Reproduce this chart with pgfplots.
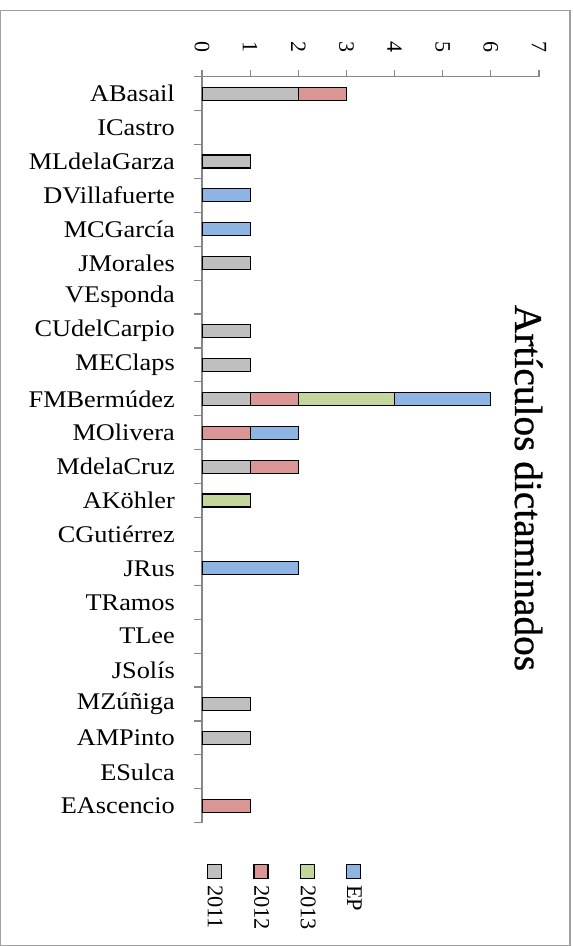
\documentclass[border=0pt]{standalone}
\usepackage{fontspec}
\setmainfont{Liberation Serif}
\newfontfamily\catfont[FakeStretch=1.1]{Liberation Serif}
\newfontfamily\titlefont[FakeBold=0.8]{Liberation Serif}
\usepackage{pgfplots}
\pgfplotsset{compat=1.18}
\usepackage{pgfplotstable}
\definecolor{cA}{HTML}{BFBFBF}
\definecolor{cB}{HTML}{D99694}
\definecolor{cC}{HTML}{C3D69B}
\definecolor{cD}{HTML}{8EB4E3}
\definecolor{axgray}{HTML}{868686}
\definecolor{framegray}{HTML}{A0A0A0}

% idx: 0 = EAscencio (bottom) ... 21 = ABasail (top); empty categories omitted
\pgfplotstableread{
idx a2011 a2012 a2013 ep
21 2 1 0 0
19 1 0 0 0
18 0 0 0 1
17 0 0 0 1
16 1 0 0 0
14 1 0 0 0
13 1 0 0 0
12 1 1 2 2
11 0 1 0 1
10 1 1 0 0
9  0 0 1 0
7  0 0 0 2
3  1 0 0 0
2  1 0 0 0
0  0 1 0 0
}\datatable

\pgfplotsset{
  legkey/.style 2 args={legend image code/.code={
     \draw[fill=#1,draw=black,line width=1.3pt] (0bp,-7bp) rectangle (14bp,7bp);
     \node[rotate=-90,anchor=west,inner sep=0pt,font=\fontsize{22.5}{22.5}\selectfont] at (7bp,-13.5bp) {#2};}},
}

\begin{document}
\begin{tikzpicture}
\useasboundingbox (-202bp,-123.3bp) rectangle (371bp,822.7bp);
\draw[framegray, line width=1.4pt] (-201.3bp,-122.5bp) rectangle (368bp,812.2bp);
\begin{axis}[
  at={(0,0)}, anchor=south west,
  scale only axis, width=337bp, height=746bp,
  xbar stacked, bar width=13bp,
  xmin=0, xmax=7, ymin=-0.5, ymax=21.5,
  axis x line*=top, axis y line*=left,
  axis line style={draw=axgray, line width=1.5pt, -},
  xtick={0,...,7}, xtick pos=upper, xticklabel pos=upper,
  ytick pos=left,
  tick align=outside, major tick length=7bp, minor tick length=8bp,
  x tick style={draw=axgray, line width=1.2pt},
  ytick={0,...,21},
  yticklabels={EAscencio,ESulca,AMPinto,MZúñiga,JSolís,TLee,TRamos,JRus,CGutiérrez,AKöhler,MdelaCruz,MOlivera,FMBermúdez,MEClaps,CUdelCarpio,VEsponda,JMorales,MCGarcía,DVillafuerte,MLdelaGarza,ICastro,ABasail},
  minor ytick={-0.5,0.5,...,21.5},
  major y tick style={draw=none},
  minor y tick style={draw=axgray, line width=1.2pt},
  /pgf/number format/assume math mode=true,
  xticklabel style={rotate=-90, anchor=east, inner sep=0pt, font=\fontsize{22}{22}\selectfont},
  xticklabel shift=17bp,
  yticklabel style={anchor=east, inner sep=0pt, font=\catfont\fontsize{24}{24}\selectfont, xshift=-20bp},
  title={Artículos dictaminados},
  title style={at={(axis description cs:0.9288,0.4406)}, anchor=base, rotate=-90, inner sep=0pt, font=\titlefont\fontsize{39.5}{41}\selectfont},
  legend columns=4,
  legend style={at={(axis description cs:0,0)}, anchor=north west, xshift=4.5bp, yshift=-41.3bp,
     draw=none, fill=none, inner sep=0pt, outer sep=0pt, column sep=0pt, row sep=0pt,
     nodes={inner sep=0pt},
     /tikz/every even column/.append style={column sep=29bp}},
]
\addplot[fill=cA, draw=black, line width=1.2pt, legkey={cA}{2011}] table[x=a2011, y=idx] {\datatable};
\addlegendentry{\mbox{}}
\addplot[fill=cB, draw=black, line width=1.2pt, legkey={cB}{2012}] table[x=a2012, y=idx] {\datatable};
\addlegendentry{\mbox{}}
\addplot[fill=cC, draw=black, line width=1.2pt, legkey={cC}{2013}] table[x=a2013, y=idx] {\datatable};
\addlegendentry{\mbox{}}
\addplot[fill=cD, draw=black, line width=1.2pt, legkey={cD}{EP}] table[x=ep, y=idx] {\datatable};
\addlegendentry{\mbox{}}
\end{axis}
\end{tikzpicture}
\end{document}
